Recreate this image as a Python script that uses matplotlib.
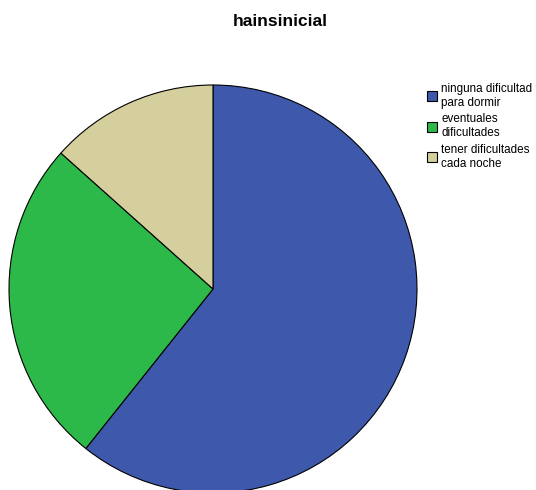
import matplotlib
matplotlib.use("Agg")
import matplotlib.pyplot as plt

title = "hainsinicial"
categories = ["ninguna dificultad\npara dormir", "eventuales\ndificultades", "tener dificultades\ncada noche"]
counts = [68, 29, 15]
colors = ["#3E58AC", "#2DB84A", "#D4CF9C"]

plt.rcParams['font.family'] = ['Liberation Sans', 'DejaVu Sans']

W, H = 536, 490
fig = plt.figure(figsize=(W / 100, H / 100), dpi=100)
ax = fig.add_axes([0, 0, 1, 1])
wedges, _ = ax.pie(counts, colors=colors, startangle=90, counterclock=False,
                   center=(213, H - 289), radius=204,
                   wedgeprops=dict(edgecolor="black", linewidth=0.8))
ax.set_xlim(0, W)
ax.set_ylim(0, H)
ax.set_aspect("equal")
ax.axis("off")

fig.text(280 / W, 1 - 22 / H, title, ha="center", va="center",
         fontsize=12.5, fontweight="bold")

leg = fig.legend(wedges, categories, loc="upper left",
                 bbox_to_anchor=(421 / W, 1 - 77 / H), frameon=False,
                 fontsize=8.4, handlelength=0.9, handleheight=0.9,
                 handletextpad=0.35, labelspacing=0.4, borderpad=0)
plt.savefig("out.png", dpi=100)
